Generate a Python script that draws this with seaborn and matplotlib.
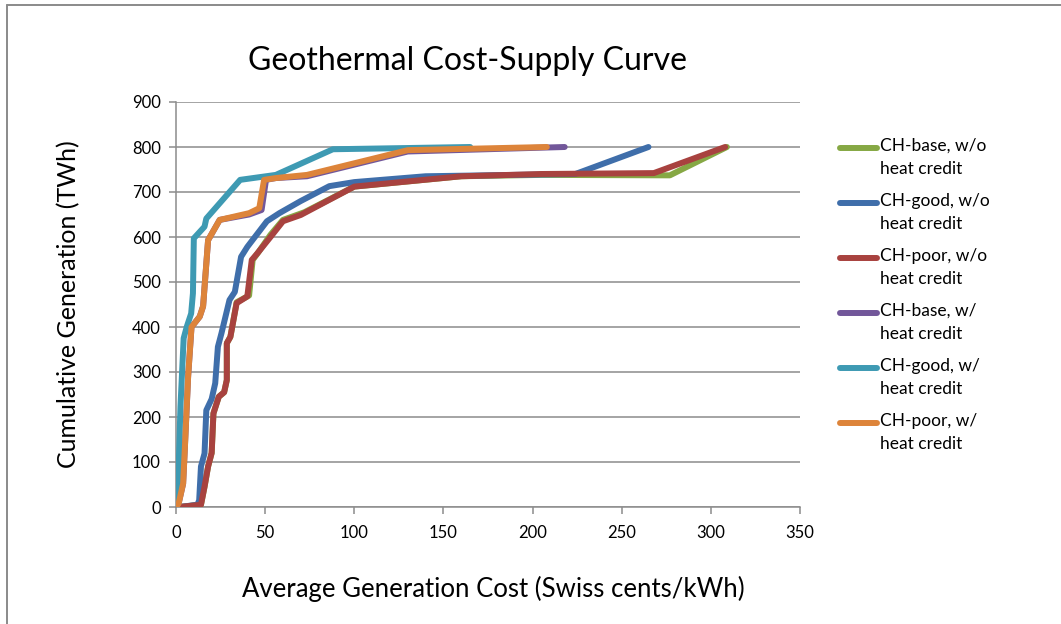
import matplotlib
matplotlib.use("Agg")
import matplotlib.pyplot as plt
from matplotlib.lines import Line2D
import seaborn as sns

# Cumulative supply (TWh) against average generation cost (Swiss cents/kWh)
base_wo_cost = [2, 14, 16, 18, 20, 21, 24, 27, 28.5, 28.5, 30.5, 34, 41, 43, 46, 53, 60, 72, 100, 160, 205, 277, 309]
base_wo_gen = [0, 5, 45, 90, 120, 208, 245, 255, 282, 364, 378, 455, 470, 549, 565, 605, 638, 655, 712, 735, 738, 737, 800]

good_wo_cost = [2, 12, 13, 14, 16, 17, 20, 22, 23.5, 25.5, 30, 33, 36.5, 40, 51, 58, 70, 86, 100, 140, 224, 265]
good_wo_gen = [0, 5, 15, 90, 119, 215, 240, 275, 356, 386, 460, 478, 556, 578, 635, 653, 680, 713, 722, 735, 740, 800]

poor_wo_cost = [2, 14, 16, 18, 20, 21, 24, 27, 28.5, 28.5, 30.5, 34, 40, 42.5, 45.5, 53, 60, 70, 100, 160, 205, 268, 308]
poor_wo_gen = [0, 5, 45, 90, 120, 208, 245, 255, 282, 364, 378, 453, 468, 549, 563, 600, 635, 649, 712, 735, 740, 742, 800]

base_w_cost = [0, 1.5, 4, 5, 6.8, 8.7, 13.3, 15.2, 18, 24.5, 41, 48, 50.5, 56, 73.5, 130, 218]
base_w_gen = [0, 8, 52, 134, 290, 400, 423, 446, 593, 638, 650, 660, 727, 731, 735, 790, 800]

good_w_cost = [0, 1, 1.5, 2.5, 4.3, 6, 8.5, 9.5, 10, 16, 17, 36, 56, 88, 165]
good_w_gen = [0, 15, 90, 223, 375, 400, 430, 475, 597, 623, 641, 727, 738, 795, 800]

poor_w_cost = [0, 1.5, 4, 5, 6.8, 8.7, 13.3, 15.2, 18, 24.5, 41, 46.7, 49.4, 56, 73.5, 130, 208]
poor_w_gen = [0, 8, 52, 134, 290, 400, 423, 446, 593, 638, 653, 664, 727, 731, 738, 793, 800]

series_labels = [
    "CH-base, w/o\nheat credit",
    "CH-good, w/o\nheat credit",
    "CH-poor, w/o\nheat credit",
    "CH-base, w/\nheat credit",
    "CH-good, w/\nheat credit",
    "CH-poor, w/\nheat credit",
]
series_colors = ["#86A844", "#3F6EAA", "#A8423F", "#72579A", "#3E9AB3", "#DD843A"]

x_ticks = [0, 50, 100, 150, 200, 250, 300, 350]
y_ticks = [0, 100, 200, 300, 400, 500, 600, 700, 800, 900]

sns.set_theme(style="white")
plt.rcParams["font.family"] = ["Lato", "DejaVu Sans"]

W, H = 1061, 624
fig = plt.figure(figsize=(W / 100, H / 100), dpi=100)
ax = fig.add_axes([176 / W, 1 - 507 / H, (800 - 176) / W, (507 - 102) / H])

series = [
    (base_wo_cost, base_wo_gen),
    (good_wo_cost, good_wo_gen),
    (poor_wo_cost, poor_wo_gen),
    (base_w_cost, base_w_gen),
    (good_w_cost, good_w_gen),
    (poor_w_cost, poor_w_gen),
]

lw = 4.3
for (xs, ys), color in zip(series, series_colors):
    sns.lineplot(x=xs, y=ys, sort=False, estimator=None, ax=ax, color=color,
                 linewidth=lw, solid_capstyle="round", solid_joinstyle="round",
                 zorder=3)

grid_color = "#8c8c8c"
ax.set_xlim(0, 350)
ax.set_ylim(0, 900)
ax.set_xticks(x_ticks)
ax.set_yticks(y_ticks)
ax.yaxis.grid(True, color=grid_color, linewidth=1.1)
ax.xaxis.grid(False)
for side in ("top", "right"):
    ax.spines[side].set_visible(False)
for side in ("left", "bottom"):
    ax.spines[side].set_color(grid_color)
    ax.spines[side].set_linewidth(1.1)
ax.tick_params(axis="both", which="major", direction="out", length=5,
               width=1.1, color=grid_color, labelsize=12, labelcolor="black",
               left=True, bottom=True)
ax.tick_params(axis="x", pad=8)
ax.tick_params(axis="y", pad=6)

ax.set_xlabel("Average Generation Cost (Swiss cents/kWh)", fontsize=18.5,
              color="black")
ax.xaxis.set_label_coords((493 - 176) / 624, (507 - 576) / 405)
ax.set_ylabel("Cumulative Generation (TWh)", fontsize=18, color="black")
ax.yaxis.set_label_coords((80 - 176) / 624, 0.5)
fig.text(468 / W, 1 - 61 / H, "Geothermal Cost-Supply Curve", fontsize=23,
         ha="center", va="center", color="black")

# Legend: swatch beside the first line of each two-line label
for i, (label, color) in enumerate(zip(series_labels, series_colors)):
    y_top = 148 + i * 55
    fig.add_artist(Line2D([840 / W, 877 / W], [1 - y_top / H, 1 - y_top / H],
                          color=color, linewidth=lw, solid_capstyle="round",
                          transform=fig.transFigure))
    fig.text(880 / W, 1 - (y_top - 10) / H, label, fontsize=12.5,
             ha="left", va="top", color="black", linespacing=1.55)

# Frame around the chart area
border = "#8a8a8a"
fig.add_artist(Line2D([7 / W, 1], [1 - 4.5 / H, 1 - 4.5 / H], color=border,
                      linewidth=1.4, transform=fig.transFigure))
fig.add_artist(Line2D([7 / W, 7 / W], [0, 1 - 4.5 / H], color=border,
                      linewidth=1.4, transform=fig.transFigure))

fig.savefig("out.png", dpi=100)
